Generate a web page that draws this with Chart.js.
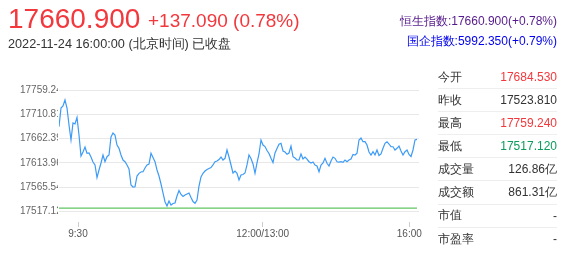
<!DOCTYPE html>
<html>
<head>
<meta charset="utf-8">
<script src="https://cdn.jsdelivr.net/npm/chart.js@4"></script>
<style>
body{margin:0;width:562px;height:253px;position:relative;overflow:hidden;background:#fff;font-family:"Liberation Sans",Arial,sans-serif;}
#c{position:absolute;left:0;top:0;}
.t{position:absolute;white-space:nowrap;line-height:1;}
#price{left:8px;top:5px;font-size:28px;color:#f2383c;}
#change{left:148px;top:10.5px;font-size:19px;color:#f2383c;}
#date{left:8px;top:38px;font-size:12.7px;color:#333;}
#hsi{right:5px;top:15px;font-size:12px;color:#551a8b;}
#hscei{right:5px;top:35px;font-size:12px;color:#0000ee;}
#stats{position:absolute;left:438px;top:66px;width:119px;}
.row{height:23.1px;box-sizing:border-box;border-bottom:1px solid #eee;display:flex;justify-content:space-between;align-items:center;font-size:12px;color:#333;}
.row:last-child{border-bottom:none;}
.up{color:#f2383c;}
.down{color:#0c9b5a;}
</style>
</head>
<body>
<canvas id="c" width="562" height="253"></canvas>
<div class="t" id="price"></div>
<div class="t" id="change"></div>
<div class="t" id="date"></div>
<div class="t" id="hsi"></div>
<div class="t" id="hscei"></div>
<div id="stats"></div>
<script>
// 分时数据
const priceData = [
  17686.1, 17723.4, 17727.3, 17739.3, 17723.4, 17689.5, 17659.6, 17693.5, 17691.5, 17704.4,
  17669.5, 17627.7, 17635.7, 17645.6, 17633.1, 17633.7, 17625.7, 17615.7, 17609.8, 17584.5,
  17599.8, 17613.8, 17629.7, 17616.3, 17626.3, 17629.7, 17665.6, 17673.5, 17669.5, 17649.6,
  17643.0, 17629.7, 17619.7, 17616.3, 17609.8, 17601.8, 17569.9, 17565.9, 17566.5, 17587.8,
  17593.2, 17595.8, 17596.4, 17603.8, 17609.8, 17611.8, 17633.1, 17624.7, 17616.3, 17599.8,
  17587.8, 17571.9, 17554.0, 17536.6, 17528.1, 17538.0, 17530.1, 17533.1, 17534.1, 17548.0,
  17558.9, 17551.0, 17547.0, 17550.0, 17552.0, 17554.0, 17545.0, 17537.0, 17533.5, 17540.0,
  17567.9, 17585.9, 17593.2, 17597.8, 17600.8, 17602.8, 17604.8, 17609.8, 17616.3, 17617.7,
  17620.7, 17625.7, 17619.7, 17623.1, 17639.7, 17625.7, 17609.8, 17593.8, 17597.8, 17593.2,
  17579.9, 17589.8, 17590.8, 17593.8, 17609.8, 17629.7, 17622.7, 17611.8, 17593.2, 17613.8,
  17631.7, 17659.6, 17649.6, 17646.6, 17638.7, 17632.7, 17623.1, 17614.7, 17633.7, 17642.6,
  17651.0, 17653.0, 17637.7, 17635.7, 17631.1, 17633.7, 17647.6, 17626.3, 17623.7, 17619.7,
  17619.7, 17631.7, 17621.7, 17625.7, 17621.7, 17616.3, 17613.8, 17615.7, 17609.8, 17607.8,
  17596.4, 17609.8, 17613.8, 17623.1, 17613.2, 17607.8, 17617.7, 17625.7, 17623.1, 17616.3,
  17615.7, 17616.3, 17615.1, 17619.7, 17616.3, 17619.7, 17621.7, 17630.7, 17629.7, 17633.1,
  17659.6, 17663.6, 17656.2, 17656.2, 17649.6, 17635.7, 17629.7, 17636.3, 17629.7, 17639.7,
  17628.7, 17631.7, 17643.0, 17653.0, 17656.2, 17651.6, 17646.2, 17646.2, 17639.7, 17643.0,
  17647.6, 17637.7, 17629.7, 17636.3, 17639.7, 17630.7, 17626.7, 17639.7, 17659.6, 17660.9
];
const prevClose = 17523.81;

// 坐标轴
const yTicks = [17517.12, 17565.54, 17613.96, 17662.39, 17710.81, 17759.24];
const xTickIdx = [9.5, 101.85, 175.15];
const xTickLabels = ['9:30', '12:00/13:00', '16:00'];

// 头部文字
const lastPrice = '17660.900';
const changeText = '+137.090 (0.78%)';
const dateText = '2022-11-24 16:00:00 (北京时间) 已收盘';
const hsiText = '恒生指数:17660.900(+0.78%)';
const hsceiText = '国企指数:5992.350(+0.79%)';

// 右侧行情
const statNames = ['今开', '昨收', '最高', '最低', '成交量', '成交额', '市值', '市盈率'];
const statValues = ['17684.530', '17523.810', '17759.240', '17517.120', '126.86亿', '861.31亿', '-', '-'];
const statClass = ['up', '', 'up', 'down', '', '', '', ''];

//------------------------------------------------------------

document.getElementById('price').innerText = lastPrice;
document.getElementById('change').innerText = changeText;
document.getElementById('date').innerText = dateText;
document.getElementById('hsi').innerText = hsiText;
document.getElementById('hscei').innerText = hsceiText;

const stats = document.getElementById('stats');
statNames.forEach((name, i) => {
  const row = document.createElement('div');
  row.className = 'row';
  row.innerHTML = `<span>${name}</span><span class="${statClass[i]}">${statValues[i]}</span>`;
  stats.appendChild(row);
});

// y轴标签在图表区左边被截掉
const clipLabels = {
  id: 'clipLabels',
  afterLayout(chart) {
    const s = chart.scales.y;
    if (s._clipped) return;
    const orig = s.drawLabels;
    s.drawLabels = function (area) {
      const c = chart.ctx;
      c.save();
      c.beginPath();
      c.rect(0, 0, chart.chartArea.left - 1, chart.height);
      c.clip();
      orig.call(this, area);
      c.restore();
    };
    s._clipped = true;
  }
};

const axisFont = { family: '"Liberation Sans", Arial, sans-serif', size: 10 };

new Chart(document.getElementById('c'), {
  type: 'line',
  data: {
    datasets: [
      {
        data: priceData.map((v, i) => ({ x: i, y: v })),
        borderColor: '#3d9bf5',
        borderWidth: 1.2,
        pointRadius: 0,
        tension: 0
      },
      {
        data: priceData.map((v, i) => ({ x: i, y: prevClose })),
        borderColor: '#62c462',
        borderWidth: 1.2,
        pointRadius: 0
      }
    ]
  },
  options: {
    responsive: false,
    animation: false,
    events: [],
    layout: { padding: { left: 20, top: 90, right: 143, bottom: 11.5 } },
    plugins: { legend: { display: false }, tooltip: { enabled: false } },
    scales: {
      x: {
        type: 'linear',
        min: 0,
        max: priceData.length,
        afterBuildTicks: (s) => { s.ticks = xTickIdx.map(v => ({ value: v })); },
        afterFit: (s) => { s.height = 30; },
        ticks: {
          callback: (v, i) => xTickLabels[i],
          color: '#555',
          font: axisFont,
          padding: 1,
          maxRotation: 0,
          autoSkip: false
        },
        grid: {
          drawOnChartArea: false,
          tickLength: 16,
          tickColor: '#ccc',
          tickBorderDash: [0, 10, 5, 20]
        },
        border: { display: false }
      },
      y: {
        min: yTicks[0],
        max: yTicks[yTicks.length - 1],
        afterBuildTicks: (s) => { s.ticks = yTicks.map(v => ({ value: v })); },
        afterFit: (s) => { s.width = 39; },
        ticks: {
          crossAlign: 'far',
          callback: (v) => v.toFixed(2),
          color: '#666',
          font: axisFont,
          padding: 0
        },
        grid: { color: '#e8e8e8', drawTicks: false },
        border: { display: false }
      }
    }
  },
  plugins: [clipLabels]
});
</script>
</body>
</html>
